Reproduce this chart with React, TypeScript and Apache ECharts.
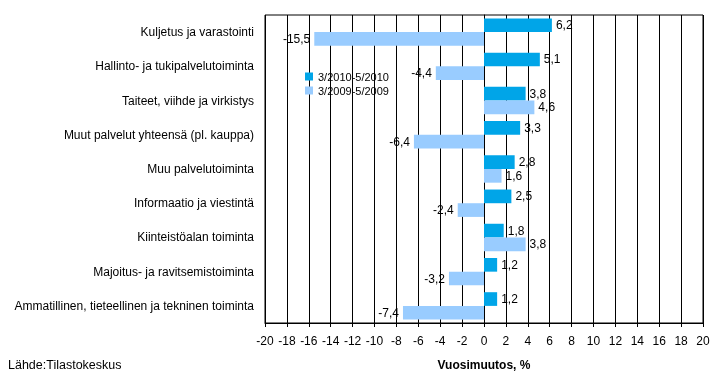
import React, { useEffect, useRef } from "react";
import * as echarts from "echarts";

const categories = [
  "Kuljetus ja varastointi",
  "Hallinto- ja tukipalvelutoiminta",
  "Taiteet, viihde ja virkistys",
  "Muut palvelut yhteensä (pl. kauppa)",
  "Muu palvelutoiminta",
  "Informaatio ja viestintä",
  "Kiinteistöalan toiminta",
  "Majoitus- ja ravitsemistoiminta",
  "Ammatillinen, tieteellinen ja tekninen toiminta",
];
const series2010 = [6.2, 5.1, 3.8, 3.3, 2.8, 2.5, 1.8, 1.2, 1.2];
const series2009 = [-15.5, -4.4, 4.6, -6.4, 1.6, -2.4, 3.8, -3.2, -7.4];
const seriesNames = ["3/2010-5/2010", "3/2009-5/2009"];
const axisName = "Vuosimuutos, %";
const sourceText = "Lähde:Tilastokeskus";

const FONT = "Liberation Sans, Arial, sans-serif";
const fmt = (v: number) => String(v).replace(".", ",");

export default function App() {
  const ref = useRef<HTMLDivElement>(null);
  useEffect(() => {
    if (!ref.current) return;
    const chart = echarts.init(ref.current, null, { renderer: "svg" });
    const mkData = (arr: number[]) =>
      arr.map((v) => ({
        value: v,
        label: { position: v >= 0 ? "right" : "left" },
      }));
    const labelCfg = {
      show: true,
      fontSize: 12,
      color: "#000",
      distance: 4,
      fontFamily: FONT,
      formatter: (p: any) => fmt(p.value),
    };
    chart.setOption({
      animation: false,
      textStyle: { fontFamily: FONT },
      grid: {
        left: 265,
        right: 16,
        top: 15,
        bottom: 68,
        show: true,
        borderColor: "#000",
        borderWidth: 1,
        containLabel: false,
      },
      legend: {
        orient: "vertical",
        left: 305,
        top: 71,
        itemWidth: 8,
        itemHeight: 8,
        itemGap: 3,
        icon: "rect",
        textStyle: { fontSize: 11, color: "#000", fontFamily: FONT },
        data: seriesNames,
        padding: 0,
      },
      graphic: [
        {
          type: "text",
          left: 8,
          top: 358,
          style: { text: sourceText, fontSize: 12.5, fill: "#000", fontFamily: FONT },
        },
      ],
      xAxis: {
        type: "value",
        min: -20,
        max: 20,
        interval: 2,
        name: axisName,
        nameLocation: "middle",
        nameGap: 36,
        nameTextStyle: { fontSize: 12, fontWeight: "bold", color: "#000", fontFamily: FONT },
        axisLine: { show: true, lineStyle: { color: "#000" } },
        axisTick: { show: true, length: 4, lineStyle: { color: "#000" } },
        axisLabel: { fontSize: 12, color: "#000", margin: 12, fontFamily: FONT },
        splitLine: { show: true, lineStyle: { color: "#000", width: 1 } },
      },
      yAxis: {
        type: "category",
        data: categories,
        inverse: true,
        axisLine: { show: true, lineStyle: { color: "#000" } },
        axisTick: { show: false },
        axisLabel: { fontSize: 12, color: "#000", margin: 11, fontFamily: FONT },
        splitLine: { show: false },
      },
      series: [
        {
          name: seriesNames[0],
          type: "bar",
          data: mkData(series2010),
          itemStyle: { color: "#00a5e8" },
          barGap: "0%",
          barCategoryGap: "20%",
          label: labelCfg,
        },
        {
          name: seriesNames[1],
          type: "bar",
          data: mkData(series2009),
          itemStyle: { color: "#99ccff" },
          barGap: "0%",
          barCategoryGap: "20%",
          label: labelCfg,
        },
      ],
    });
    return () => chart.dispose();
  }, []);
  return (
    <div
      ref={ref}
      style={{ position: "fixed", left: 0, top: 0, width: 719, height: 391 }}
    />
  );
}
